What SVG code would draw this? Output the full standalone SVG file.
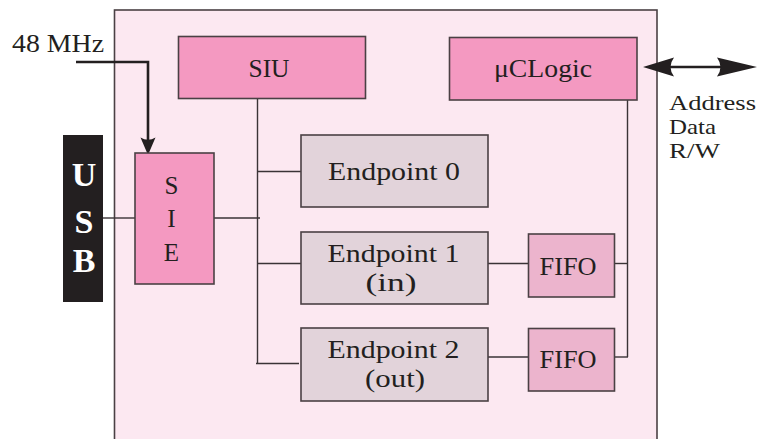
<svg xmlns="http://www.w3.org/2000/svg" width="768" height="439" viewBox="0 0 768 439">
<defs>
<style>
text{font-family:"Liberation Serif","Times New Roman",serif;fill:#231f20;font-size:25px;text-anchor:middle}
.box{stroke:#4a4044;stroke-width:1.6}
.blk{fill:#f499c1}
.ep{fill:#e2d3da}
.ff{fill:#ecb4cd}
.ln{stroke:#3a3336;stroke-width:1.4;fill:none}
.thick{stroke:#231f20;stroke-width:2.6;fill:none}
.usb{fill:#fff;font-weight:bold;font-size:34px}
.bus{font-size:21px;text-anchor:start}
</style>
</defs>
<rect width="768" height="439" fill="#fff"/>
<g id="chip">
<rect x="114.5" y="10" width="542.5" height="440" fill="#fce8f1" class="box"/>
</g>
<g id="connectors">
<line class="ln" x1="257.5" y1="99" x2="257.5" y2="364"/>
<line class="ln" x1="103" y1="218" x2="135" y2="218"/>
<line class="ln" x1="214" y1="218" x2="260" y2="218"/>
<line class="ln" x1="258" y1="171.5" x2="301" y2="171.5"/>
<line class="ln" x1="258" y1="263.5" x2="301" y2="263.5"/>
<line class="ln" x1="256" y1="363.5" x2="299" y2="363.5"/>
<line class="ln" x1="488" y1="263.5" x2="528" y2="263.5"/>
<line class="ln" x1="488" y1="357" x2="528" y2="357"/>
<line class="ln" x1="627.5" y1="100" x2="627.5" y2="357"/>
<line class="ln" x1="615" y1="263.5" x2="628" y2="263.5"/>
<line class="ln" x1="615" y1="357" x2="628" y2="357"/>
<polyline class="thick" points="76,62 148,62 148,142"/>
<path d="M148,155 L140.5,137.5 Q148,142 155.5,137.5 Z" fill="#231f20"/>
<line class="thick" x1="665" y1="67" x2="735" y2="67"/>
<path d="M643,67 L674,57.5 Q667,67 674,76.5 Z" fill="#231f20"/>
<path d="M757,67 L717,57.5 Q724,67 717,76.5 Z" fill="#231f20"/>
</g>
<g id="usb">
<rect x="63" y="135" width="40" height="167" fill="#231f20"/>
<text class="usb" x="84" y="186">U</text>
<text class="usb" x="84" y="233">S</text>
<text class="usb" x="84" y="272">B</text>
</g>
<g id="clk">
<text x="58" y="52" textLength="92" lengthAdjust="spacingAndGlyphs">48 MHz</text>
</g>
<g id="siu">
<rect x="178.5" y="36.5" width="187" height="62" class="box blk"/>
<text x="269" y="77" textLength="41" lengthAdjust="spacingAndGlyphs">SIU</text>
</g>
<g id="uclogic">
<rect x="449.5" y="37.5" width="187.5" height="62.5" class="box blk"/>
<text x="543" y="77" textLength="98" lengthAdjust="spacingAndGlyphs">μCLogic</text>
</g>
<g id="sie">
<rect x="135" y="153" width="79" height="131" class="box blk"/>
<text x="171.5" y="194">S</text>
<text x="171.5" y="227">I</text>
<text x="171.5" y="261">E</text>
</g>
<g id="ep0">
<rect x="301" y="135" width="187" height="72" class="box ep"/>
<text x="394" y="180" textLength="132" lengthAdjust="spacingAndGlyphs">Endpoint 0</text>
</g>
<g id="ep1">
<rect x="301" y="232" width="187" height="72" class="box ep"/>
<text x="393.5" y="262" textLength="132" lengthAdjust="spacingAndGlyphs">Endpoint 1</text>
<text x="391" y="291" textLength="51" lengthAdjust="spacingAndGlyphs">(in)</text>
</g>
<g id="ep2">
<rect x="301" y="328" width="187" height="73" class="box ep"/>
<text x="393.5" y="358" textLength="132" lengthAdjust="spacingAndGlyphs">Endpoint 2</text>
<text x="395" y="387" textLength="60" lengthAdjust="spacingAndGlyphs">(out)</text>
</g>
<g id="fifo1">
<rect x="528.5" y="234" width="86" height="63" class="box ff"/>
<text x="568" y="275" textLength="57" lengthAdjust="spacingAndGlyphs">FIFO</text>
</g>
<g id="fifo2">
<rect x="528.5" y="328.5" width="86" height="62.5" class="box ff"/>
<text x="568" y="368" textLength="57" lengthAdjust="spacingAndGlyphs">FIFO</text>
</g>
<g id="bus-label">
<text class="bus" x="669" y="110" textLength="87" lengthAdjust="spacingAndGlyphs">Address</text>
<text class="bus" x="669" y="134" textLength="47" lengthAdjust="spacingAndGlyphs">Data</text>
<text class="bus" x="669" y="158" textLength="51" lengthAdjust="spacingAndGlyphs">R/W</text>
</g>
</svg>
